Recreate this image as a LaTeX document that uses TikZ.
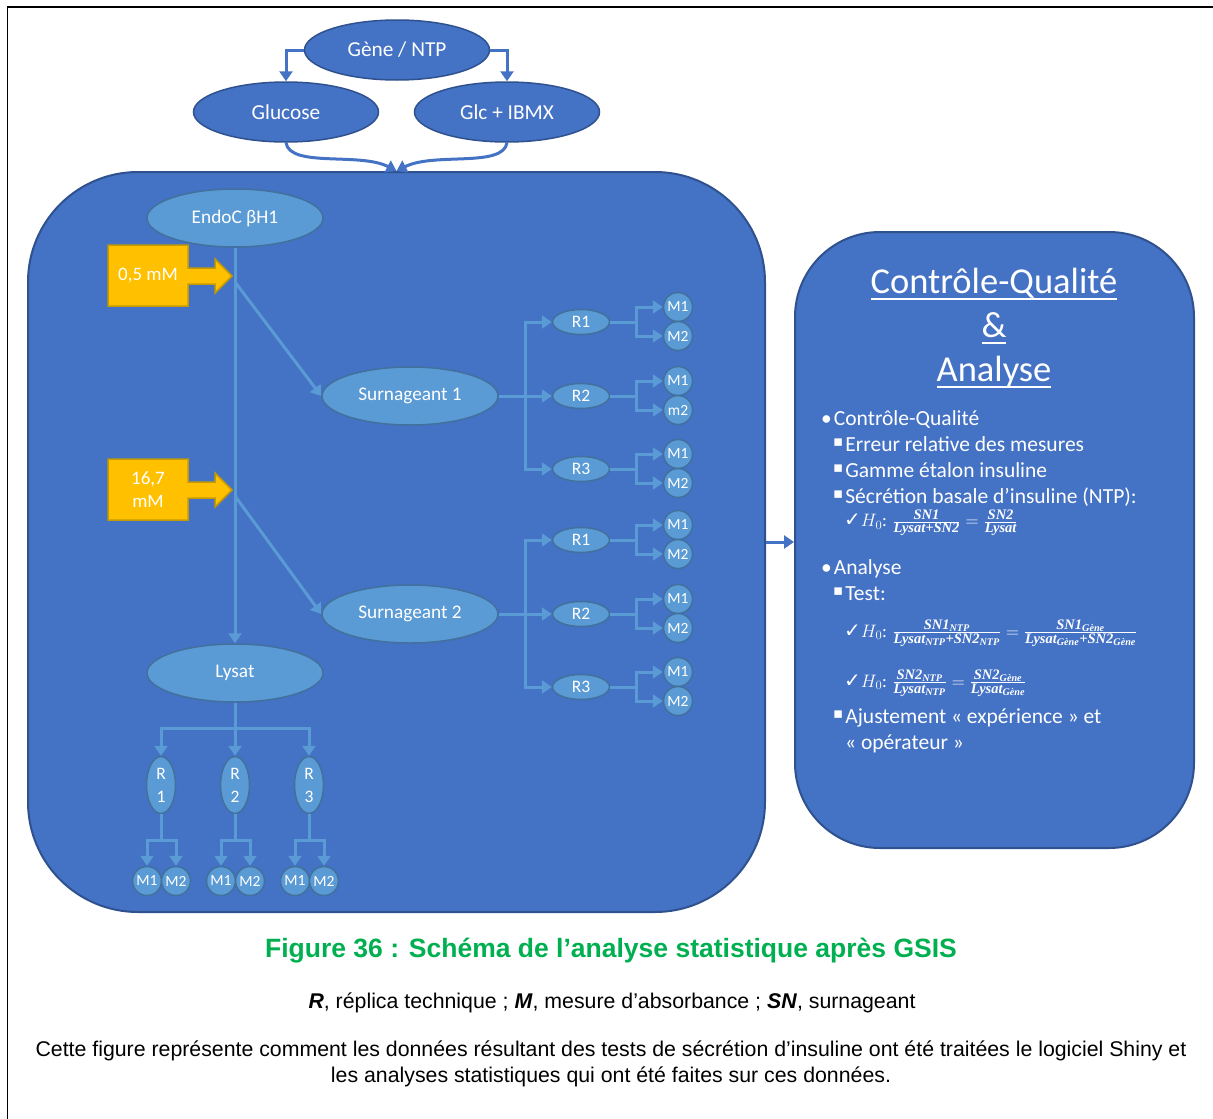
\RequirePackage{fix-cm}
\documentclass[tikz,border=0pt]{standalone}
\usepackage[no-math]{fontspec}
\usepackage{amsmath,amssymb}
\setmainfont{Carlito}
\newfontfamily\arialfont{Liberation Sans}
\newfontfamily\pucefont{DejaVu Sans}
\newfontfamily\formfont{Liberation Serif}
\usetikzlibrary{shapes.geometric,arrows.meta}

\definecolor{bleu}{HTML}{4472C4}
\definecolor{bleufonce}{HTML}{2F528F}
\definecolor{bleuclair}{HTML}{5B9BD5}
\definecolor{bordclair}{HTML}{41719C}
\definecolor{jaune}{HTML}{FFC000}
\definecolor{bordjaune}{HTML}{C49A00}
\definecolor{vert}{HTML}{00B050}

% soulignement a profondeur fixe
\newcommand{\souligne}[1]{%
    \leavevmode\setbox0=\hbox{#1}\copy0\kern-\wd0\rule[-7pt]{\wd0}{2.2pt}}
% puce carree et coche
\newcommand{\carre}{%
    {\pucefont\fontsize{15}{18}\selectfont\raisebox{4.5pt}{▪}}\hspace{2pt}}
\newcommand{\coche}{{\pucefont\fontsize{20}{22}\selectfont ✓}}
% termes des formules
\newcommand{\fb}[1]{%
    \text{\formfont\bfseries\itshape\fontsize{14.5}{16}\selectfont #1}}
\newcommand{\ind}[1]{\textsubscript{#1}}

\begin{document}
\begin{tikzpicture}[
    x=1pt,
    y=-1pt,
    ovale/.style={
        ellipse, draw=bleufonce, line width=1.5pt, fill=bleu,
        text=white, inner sep=0pt,
        minimum width=185pt, minimum height=60pt,
        font=\fontsize{21.3}{25}\selectfont
    },
    clair/.style={
        ellipse, draw=bordclair, line width=1.5pt, fill=bleuclair,
        text=white, inner sep=0pt,
        minimum width=176pt, minimum height=58pt,
        font=\fontsize{19.3}{23}\selectfont
    },
    rep/.style={
        clair, minimum width=57pt, minimum height=25pt,
        font=\fontsize{17.5}{21}\selectfont
    },
    repv/.style={
        clair, minimum width=29pt, minimum height=57pt, align=center,
        font=\fontsize{17.5}{23}\selectfont
    },
    mes/.style={
        circle, draw=bordclair, line width=1.5pt, fill=bleuclair,
        text=white, inner sep=0pt, minimum size=29pt,
        font=\fontsize{15.5}{18}\selectfont
    },
    boite/.style={
        rectangle, draw=bleufonce, line width=2pt, fill=bleu
    },
    trait/.style={
        draw=bleuclair, line width=3pt
    },
    fleche/.style={
        trait, -{Triangle[length=10pt,width=13pt]}
    },
    lien/.style={
        draw=bleu, line width=3pt, -{Triangle[length=10pt,width=13pt]}
    },
    texte/.style={
        anchor=base west, inner sep=0pt, text=white,
        font=\fontsize{21.5}{26}\selectfont
    },
    formule/.style={
        anchor=west, inner sep=0pt, text=white,
        font=\fontsize{18}{21}\selectfont
    }
]

\useasboundingbox (0,0) rectangle (1213,1119);

% -------------------------------------------------
% Cadre de la page
% -------------------------------------------------

\draw[line width=2.5pt] (7,7) -- (1213,7);
\draw[line width=1pt] (7,7) -- (7,1119);

% -------------------------------------------------
% Les deux grands blocs
% -------------------------------------------------

\node[boite, rounded corners=110pt,
      minimum width=737pt, minimum height=740pt] (gauche) at (396.5,542) {};
\node[boite, rounded corners=85pt,
      minimum width=399pt, minimum height=616pt] (droite) at (994.5,540) {};

\draw[lien] (gauche.east) -- (gauche.east -| droite.west);

% -------------------------------------------------
% Conditions en haut
% -------------------------------------------------

\node[ovale] (gene) at (397,50) {Gène / NTP};
\node[ovale] (glucose) at (286,112) {Glucose};
\node[ovale] (ibmx) at (507,112) {Glc + IBMX};

\draw[lien] (gene.west) -| (glucose.north);
\draw[lien] (gene.east) -| (ibmx.north);

% vers le bloc de gauche
\draw[lien] (glucose.south)
    .. controls (290,168) and (360,152) .. (gauche.north);
\draw[lien] (ibmx.south)
    .. controls (503,168) and (434,152) .. (gauche.north);

% -------------------------------------------------
% Cellules et lysat
% -------------------------------------------------

\node[clair] (endoc) at (235,218) {EndoC βH1};
\node[clair] (lysat) at (235,673) {Lysat};

\draw[fleche] (endoc) -- (lysat);

% Concentrations de glucose (fleches jaunes)
\foreach \n/\y/\txt in {1/276/{0,5 mM}, 2/490/{16,7\\mM}} {
    \draw[fill=jaune, draw=bordjaune, line width=1.5pt, line join=miter]
        (108,\y) ++(0,-31) -- ++(80,0) -- ++(0,23) -- ++(27,0)
        -- ++(0,-9) -- ++(17,17) -- ++(-17,17) -- ++(0,-9)
        -- ++(-27,0) -- ++(0,22) -- ++(-80,0) -- cycle;
    \node[text=white, align=center, font=\fontsize{19}{23}\selectfont]
        (dose\n) at (148,\y) {\txt};
    \coordinate (depart\n) at (235,{\y+6});
}

% -------------------------------------------------
% Surnageants : replicats et mesures
% -------------------------------------------------

\foreach \s/\ys/\lab in {1/396/m2, 2/614/M2} {
    \node[clair] (s\s) at (410,\ys) {Surnageant \s};
    \draw[fleche] (depart\s) -- (s\s.west);
    \coordinate (b\s) at (525,\ys);
    \draw[trait] (s\s.east) -- (b\s);
    \foreach \r/\dy/\lb in {1/-74/M2, 2/0/\lab, 3/73/M2} {
        \node[rep] (r\s\r) at (581,{\ys+\dy}) {R\r};
        \draw[fleche] (b\s) |- (r\s\r);
        \coordinate (e\s\r) at (636,{\ys+\dy});
        \draw[trait] (r\s\r.east) -- (e\s\r);
        \node[mes] (m\s\r a) at (678,{\ys+\dy-15}) {M1};
        \node[mes] (m\s\r b) at (678,{\ys+\dy+14}) {\lb};
        \draw[fleche] (e\s\r) |- (m\s\r a);
        \draw[fleche] (e\s\r) |- (m\s\r b);
    }
}

% -------------------------------------------------
% Lysat : replicats et mesures
% -------------------------------------------------

\coordinate (l0) at (235,728);
\draw[trait] (lysat) -- (l0);

\foreach \r/\x in {1/161, 2/235, 3/309} {
    \node[repv] (lr\r) at (\x,785) {R\\\r};
    \draw[fleche] (l0) -| (lr\r);
    \coordinate (lb\r) at (\x,840);
    \draw[trait] (lr\r) -- (lb\r);
    \node[mes] (lm\r a) at ({\x-14},881) {M1};
    \node[mes] (lm\r b) at ({\x+15},881) {M2};
    \draw[fleche] (lb\r) -| (lm\r a);
    \draw[fleche] (lb\r) -| (lm\r b);
}

% -------------------------------------------------
% Bloc de droite : controle-qualite et analyse
% -------------------------------------------------

\node[text=white, anchor=base, font=\fontsize{36.5}{40}\selectfont]
    (titre1) at (994,293) {\souligne{Contrôle-Qualité}};
\node[text=white, anchor=base, font=\fontsize{36.5}{40}\selectfont]
    (titre2) at (994,337) {\souligne{\&}};
\node[text=white, anchor=base, font=\fontsize{36.5}{40}\selectfont]
    (titre3) at (994,381) {\souligne{Analyse}};

\node[texte] (cq) at (821,425) {•\hspace{2pt}Contrôle-Qualité};
\node[texte] (cq1) at (833,451) {\carre Erreur relative des mesures};
\node[texte] (cq2) at (833,477) {\carre Gamme étalon insuline};
\node[texte] (cq3) at (833,503) {\carre Sécrétion basale d’insuline (NTP):};
\node[formule] (h1) at (844,523)
    {\coche$H_0\text{: }
      \frac{\fb{SN1}}{\fb{Lysat+SN2}} = \frac{\fb{SN2}}{\fb{Lysat}}$};

\node[texte] (an) at (821,574) {•\hspace{2pt}Analyse};
\node[texte] (an1) at (833,600) {\carre Test:};
\node[formule] (h2) at (844,633)
    {\coche$H_0\text{: }
      \frac{\fb{SN1\ind{NTP}}}{\fb{Lysat\ind{NTP}+SN2\ind{NTP}}}
      = \frac{\fb{SN1\ind{Gène}}}{\fb{Lysat\ind{Gène}+SN2\ind{Gène}}}$};
\node[formule] (h3) at (844,683)
    {\coche$H_0\text{: }
      \frac{\fb{SN2\ind{NTP}}}{\fb{Lysat\ind{NTP}}}
      = \frac{\fb{SN2\ind{Gène}}}{\fb{Lysat\ind{Gène}}}$};
\node[texte] (an2) at (833,723) {\carre Ajustement « expérience » et};
\node[texte] (an3) at (845,749) {« opérateur »};

% -------------------------------------------------
% Legende
% -------------------------------------------------

\node[text=vert, font=\arialfont\bfseries\fontsize{26.5}{30}\selectfont]
    (legende) at (611,951)
    {Figure 36 : Schéma de l’analyse statistique après GSIS};
\node[font=\arialfont\fontsize{21.3}{24}\selectfont] (abrev) at (612,1003)
    {\textbf{\textit{R}}, réplica technique ; \textbf{\textit{M}}, mesure
     d’absorbance ; \textbf{\textit{SN}}, surnageant};
\node[font=\arialfont\fontsize{21.3}{26}\selectfont, align=center]
    (descr) at (611,1064)
    {Cette figure représente comment les données résultant des tests de
     sécrétion d’insuline ont été traitées le logiciel Shiny et\\
     les analyses statistiques qui ont été faites sur ces données.};

\end{tikzpicture}
\end{document}
